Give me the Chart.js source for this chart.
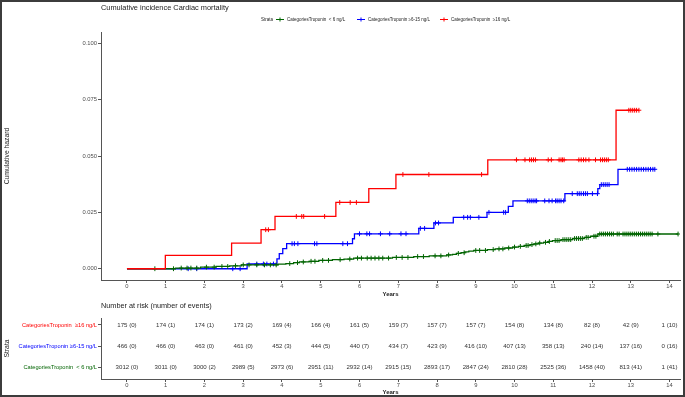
<!DOCTYPE html>
<html lang="en">
<head>
<meta charset="UTF-8">
<title>Cumulative incidence Cardiac mortality</title>
<script src="https://cdn.jsdelivr.net/npm/chart.js"></script>
<style>
    body { margin: 0; width: 685px; height: 397px; overflow: hidden; background: #fff; position: relative; font-family: Arial, "Liberation Sans", sans-serif; }
    #main { position: absolute; left: 0; top: 0; }
    #risk { position: absolute; left: 0; top: 298px; }
    .frame { position: absolute; left: 0; top: 0; width: 681px; height: 393px; border: 2px solid #3c3c3c; pointer-events: none; }
</style>
</head>
<body>
<canvas id="main" width="685" height="300"></canvas>
<canvas id="risk" width="685" height="102"></canvas>
<div class="frame"></div>
<script>
// axis ticks
const xTicks = [0, 1, 2, 3, 4, 5, 6, 7, 8, 9, 10, 11, 12, 13, 14];
const yTicks = [0, 0.025, 0.05, 0.075, 0.1];

// strata
const strataLabels = ['CategoriesTroponin  < 6 ng/L', 'CategoriesTroponin \u22656-15 ng/L', 'CategoriesTroponin  \u226516 ng/L'];
const strataColors = ['#006400', '#0000ff', '#ff0000'];

// step curves (time in years, cumulative hazard)
const lowTimes = [0, 1.25, 1.9, 2.3, 2.65, 2.95, 3.9, 4.1, 4.3, 4.45, 4.7, 4.95, 5.3, 5.6, 5.85, 6.85, 7.4, 7.8,
    8.25, 8.4, 8.5, 8.62, 8.72, 8.82, 8.95, 9.3, 9.5, 9.75, 9.95, 10.1, 10.25, 10.4, 10.5, 10.62, 10.75, 10.88,
    10.98, 11.2, 11.5, 11.8, 11.96, 12.15, 14.22];
const lowValues = [0, 0.0003, 0.0007, 0.001, 0.0013, 0.0017, 0.002, 0.0023, 0.0027, 0.003, 0.0033, 0.0037, 0.004,
    0.0043, 0.0047, 0.005, 0.0054, 0.0057, 0.0061, 0.0064, 0.0068, 0.0071, 0.0075, 0.0078, 0.0081, 0.0085, 0.0088,
    0.0092, 0.0096, 0.0099, 0.0103, 0.0107, 0.011, 0.0114, 0.0117, 0.0121, 0.0125, 0.0129, 0.0134, 0.0139, 0.0144,
    0.0154, 0.0154];
const midTimes = [0, 3.1, 3.87, 3.93, 4.02, 4.12, 5.82, 5.87, 7.53, 7.92, 8.42, 9.29, 9.84, 9.96, 11.3, 12.15, 12.2, 12.67, 13.62];
const midValues = [0, 0.0021, 0.0044, 0.0067, 0.0089, 0.0111, 0.0133, 0.0155, 0.0179, 0.0203, 0.0228, 0.025, 0.0277,
    0.0301, 0.0333, 0.0355, 0.0373, 0.0441, 0.0441];
const highTimes = [0, 0.99, 2.7, 3.46, 3.82, 5.39, 6.24, 6.94, 9.31, 12.62, 13.21];
const highValues = [0, 0.0059, 0.0114, 0.0173, 0.0232, 0.0294, 0.0355, 0.0418, 0.0483, 0.0703, 0.0703];

// censoring times
const lowCensor = [0.72, 1.2, 1.4, 1.55, 1.65, 1.8, 2.05, 2.25, 2.45, 2.6, 2.8, 3.0, 3.15, 3.35, 3.55, 3.7, 3.85, 4.2,
    4.4, 4.55, 4.75, 4.85, 5.05, 5.2, 5.5, 5.75, 5.95, 6.05, 6.2, 6.3, 6.4, 6.5, 6.6, 6.75, 6.95, 7.1, 7.25, 7.5,
    7.65, 7.95, 8.1, 8.3, 8.55, 8.7, 9.0, 9.1, 9.25, 9.45, 9.6, 9.7, 9.85, 10.0, 10.15, 10.3, 10.35, 10.45, 10.55,
    10.65, 10.8, 10.9, 11.05, 11.1, 11.15, 11.25, 11.3, 11.35, 11.4, 11.45, 11.55, 11.6, 11.65, 11.7, 11.75, 11.85,
    11.9, 12.05, 12.1, 12.2, 12.25, 12.3, 12.35, 12.4, 12.45, 12.5, 12.55, 12.65, 12.7, 12.8, 12.85, 12.9, 12.95,
    13.0, 13.05, 13.1, 13.15, 13.2, 13.25, 13.3, 13.35, 13.4, 13.45, 13.5, 13.55, 13.7, 14.22];
const midCensor = [1.58, 1.8, 2.73, 2.92, 3.35, 3.52, 3.61, 3.78, 4.26, 4.32, 4.41, 4.84, 4.9, 5.57, 5.69, 6.0, 6.19,
    6.26, 6.54, 6.78, 7.07, 7.2, 7.57, 7.68, 7.96, 8.04, 8.69, 8.79, 8.86, 9.08, 9.34, 9.72, 9.77, 10.33, 10.38, 10.43,
    10.48, 10.53, 10.57, 10.78, 10.89, 10.97, 11.06, 11.1, 11.15, 11.2, 11.27, 11.49, 11.62, 11.67, 11.72, 11.78, 11.83,
    11.88, 12.01, 12.14, 12.24, 12.29, 12.34, 12.39, 12.44, 12.91, 12.97, 13.03, 13.09, 13.15, 13.21, 13.27, 13.33,
    13.39, 13.45, 13.51, 13.57, 13.62];
const highCensor = [3.58, 3.65, 4.37, 4.51, 4.56, 5.1, 5.49, 5.76, 5.92, 7.12, 7.79, 9.15, 10.05, 10.27, 10.39, 10.44,
    10.49, 10.54, 10.87, 10.95, 11.15, 11.2, 11.24, 11.28, 11.66, 11.72, 11.78, 11.84, 11.92, 12.09, 12.22, 12.27,
    12.32, 12.37, 12.42, 12.95, 13.0, 13.05, 13.1, 13.15, 13.21];

// number at risk (number of events)
const riskHigh = [175, 174, 174, 173, 169, 166, 161, 159, 157, 157, 154, 134, 82, 42, 1];
const eventsHigh = [0, 1, 1, 2, 4, 4, 5, 7, 7, 7, 8, 8, 8, 9, 10];
const riskMid = [466, 466, 463, 461, 452, 444, 440, 434, 423, 416, 407, 358, 240, 137, 0];
const eventsMid = [0, 0, 0, 0, 3, 5, 7, 7, 9, 10, 13, 13, 14, 16, 16];
const riskLow = [3012, 3011, 3000, 2989, 2973, 2951, 2932, 2915, 2893, 2847, 2810, 2525, 1458, 813, 1];
const eventsLow = [0, 0, 2, 5, 6, 11, 14, 15, 17, 24, 28, 36, 40, 41, 41];

const FONT = 'Arial, "Liberation Sans", sans-serif';
const X_MIN = -0.67, X_MAX = 14.27;

function stepAt(times, values, t) {
    let v = values[0];
    for (let i = 0; i < times.length; i++) {
        if (times[i] <= t) v = values[i];
    }
    return v;
}

function curve(times, values, color) {
    return {
        data: times.map((t, i) => ({ x: t, y: values[i] })),
        showLine: true, stepped: 'before', borderColor: color, borderWidth: 1.3,
        pointRadius: 0, fill: false
    };
}

function censor(list, times, values, color) {
    return {
        data: list.map(t => ({ x: t, y: stepAt(times, values, t) })),
        showLine: false, pointStyle: 'cross', pointRadius: 2.4, borderColor: color,
        pointBorderWidth: 1, backgroundColor: color
    };
}

const axisColor = '#555';
const tickColor = '#4d4d4d';

// title + legend on the main chart
const mainText = {
    id: 'mainText',
    afterDraw(chart) {
        const ctx = chart.ctx;
        ctx.save();
        ctx.fillStyle = '#222';
        ctx.textBaseline = 'middle';
        ctx.textAlign = 'left';
        ctx.font = '7.4px ' + FONT;
        ctx.fillText('Cumulative incidence Cardiac mortality', chart.chartArea.left, 8);

        ctx.font = '4.5px ' + FONT;
        ctx.fillText('Strata', 261, 19.5);
        const markX = [280, 361, 444];
        for (let i = 0; i < 3; i++) {
            ctx.strokeStyle = strataColors[i];
            ctx.lineWidth = 1;
            ctx.beginPath();
            ctx.moveTo(markX[i] - 4, 19.5); ctx.lineTo(markX[i] + 4, 19.5);
            ctx.moveTo(markX[i], 17.5); ctx.lineTo(markX[i], 21.5);
            ctx.stroke();
            ctx.fillStyle = '#222';
            ctx.fillText(strataLabels[i], markX[i] + 7, 19.5);
        }
        ctx.restore();
    }
};

new Chart(document.getElementById('main'), {
    type: 'scatter',
    data: {
        datasets: [
            censor(highCensor, highTimes, highValues, strataColors[2]),
            curve(highTimes, highValues, strataColors[2]),
            censor(lowCensor, lowTimes, lowValues, strataColors[0]),
            curve(lowTimes, lowValues, strataColors[0]),
            censor(midCensor, midTimes, midValues, strataColors[1]),
            curve(midTimes, midValues, strataColors[1])
        ]
    },
    options: {
        responsive: false,
        animation: false,
        layout: { padding: { top: 32, right: 5, left: 0, bottom: 0 } },
        plugins: { legend: { display: false }, tooltip: { enabled: false } },
        scales: {
            x: {
                type: 'linear', min: X_MIN, max: X_MAX,
                afterBuildTicks: s => { s.ticks = xTicks.map(v => ({ value: v })); },
                afterFit: s => { s.height = 20; },
                grid: { drawOnChartArea: false, drawTicks: true, tickLength: 3, color: axisColor },
                border: { color: axisColor, width: 1 },
                ticks: { padding: 0, color: tickColor, font: { family: FONT, size: 5.8 }, maxRotation: 0 },
                title: { display: true, text: 'Years', color: '#222', padding: { top: 0, bottom: 2.5 }, font: { family: FONT, size: 6, weight: 'bold' } }
            },
            y: {
                min: -0.005, max: 0.105,
                afterBuildTicks: s => { s.ticks = yTicks.map(v => ({ value: v })); },
                afterFit: s => { s.width = 101; },
                grid: { drawOnChartArea: false, drawTicks: true, tickLength: 3, color: axisColor },
                border: { color: axisColor, width: 1 },
                ticks: { padding: 1, color: tickColor, font: { family: FONT, size: 5.8 }, callback: v => v.toFixed(3) },
                title: { display: true, text: 'Cumulative hazard', color: '#222', padding: { top: 3, bottom: 0 }, font: { family: FONT, size: 6.8 } }
            }
        }
    },
    plugins: [mainText]
});

// risk table
const riskRows = [
    { risk: riskLow, events: eventsLow },
    { risk: riskMid, events: eventsMid },
    { risk: riskHigh, events: eventsHigh }
];

const riskText = {
    id: 'riskText',
    afterDraw(chart) {
        const ctx = chart.ctx;
        const xs = chart.scales.x, ys = chart.scales.y;
        ctx.save();
        ctx.fillStyle = '#222';
        ctx.textBaseline = 'middle';
        ctx.textAlign = 'left';
        ctx.font = '7.3px ' + FONT;
        ctx.fillText('Number at risk (number of events)', chart.chartArea.left, 7.7);
        ctx.textAlign = 'center';
        ctx.font = '6.1px ' + FONT;
        ctx.fillStyle = '#333';
        riskRows.forEach((row, r) => {
            xTicks.forEach((t, i) => {
                ctx.fillText(row.risk[i] + ' (' + row.events[i] + ')', xs.getPixelForValue(t), ys.getPixelForValue(r));
            });
        });
        ctx.restore();
    }
};

new Chart(document.getElementById('risk'), {
    type: 'scatter',
    data: { datasets: [{ data: [] }] },
    options: {
        responsive: false,
        animation: false,
        layout: { padding: { top: 20, right: 5, left: 0, bottom: 0 } },
        plugins: { legend: { display: false }, tooltip: { enabled: false } },
        scales: {
            x: {
                type: 'linear', min: X_MIN, max: X_MAX,
                afterBuildTicks: s => { s.ticks = xTicks.map(v => ({ value: v })); },
                afterFit: s => { s.height = 21; },
                grid: { drawOnChartArea: false, drawTicks: true, tickLength: 3, color: axisColor },
                border: { color: axisColor, width: 1 },
                ticks: { padding: 0, color: tickColor, font: { family: FONT, size: 5.8 }, maxRotation: 0 },
                title: { display: true, text: 'Years', color: '#222', padding: { top: 0, bottom: 4.5 }, font: { family: FONT, size: 6, weight: 'bold' } }
            },
            y: {
                min: -0.571, max: 2.333,
                afterBuildTicks: s => { s.ticks = [0, 1, 2].map(v => ({ value: v })); },
                afterFit: s => { s.width = 101; },
                grid: { drawOnChartArea: false, drawTicks: true, tickLength: 3, color: axisColor },
                border: { color: axisColor, width: 1 },
                ticks: {
                    padding: 1, font: { family: FONT, size: 5.7 },
                    callback: v => strataLabels[v],
                    color: c => strataColors[c.tick.value]
                },
                title: { display: true, text: 'Strata', color: '#222', padding: { top: 3, bottom: 0 }, font: { family: FONT, size: 6.8 } }
            }
        }
    },
    plugins: [riskText]
});
</script>
</body>
</html>
